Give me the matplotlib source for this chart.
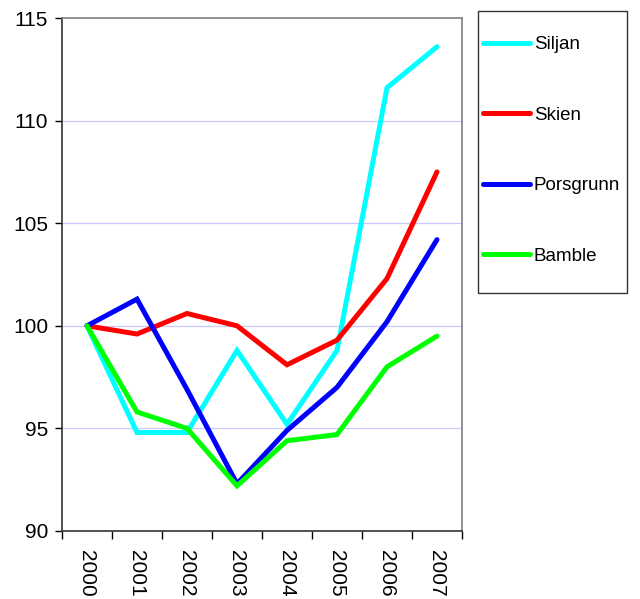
import numpy as np
import matplotlib.pyplot as plt
from matplotlib.patches import Rectangle

plt.rcParams['font.family'] = ['Liberation Sans', 'DejaVu Sans']

years = ['2000', '2001', '2002', '2003', '2004', '2005', '2006', '2007']
siljan = [100.0, 94.8, 94.8, 98.8, 95.2, 98.8, 111.6, 113.6]
skien = [100.0, 99.6, 100.6, 100.0, 98.1, 99.3, 102.3, 107.5]
porsgrunn = [100.0, 101.3, 96.9, 92.3, 94.9, 97.0, 100.2, 104.2]
bamble = [100.0, 95.8, 95.0, 92.2, 94.4, 94.7, 98.0, 99.5]

series = [('Siljan', siljan, '#00FFFF'),
          ('Skien', skien, '#FF0000'),
          ('Porsgrunn', porsgrunn, '#0000FF'),
          ('Bamble', bamble, '#00FF00')]

fig = plt.figure(figsize=(6.4, 5.99), dpi=100)
ax = fig.add_axes([62 / 640, 68 / 599, 400 / 640, 513 / 599])

x = np.arange(len(years))
for name, vals, col in series:
    ax.plot(x, vals, color=col, linewidth=3.6, label=name,
            solid_capstyle='round', solid_joinstyle='miter')

ax.set_xlim(-0.5, len(years) - 0.5)
ax.set_ylim(90, 115)
ax.set_yticks([90, 95, 100, 105, 110, 115])
for v in [95, 100, 105, 110]:
    ax.axhline(v, color='#C8C8FF', linewidth=0.9, zorder=0)

ax.set_xticks(x)
ax.set_xticklabels(years, rotation=270, fontsize=15, va='top', ha='center')
ax.set_xticks(np.arange(-0.5, len(years)), minor=True)
ax.tick_params(axis='x', which='major', length=0, pad=14)
ax.tick_params(axis='x', which='minor', length=6, width=1, direction='out')
ax.tick_params(axis='y', labelsize=15, length=5, width=1, direction='out', pad=5)

ax.spines['left'].set_color('#333333')
ax.spines['bottom'].set_color('#333333')
ax.spines['top'].set_color('#808080')
ax.spines['right'].set_color('#808080')
for s in ax.spines.values():
    s.set_linewidth(1.2)

# legend box drawn separately, entries placed inside it
fig.patches.append(Rectangle((478 / 640, 1 - 293 / 599), 149 / 640, 282 / 599,
                             transform=fig.transFigure, fill=False,
                             edgecolor='#333333', linewidth=1.0))
fig.legend(loc='upper left', bbox_to_anchor=(483 / 640, 1 - 36 / 599),
           fontsize=13.5, frameon=False, borderpad=0, labelspacing=2.85,
           handlelength=2.5, handletextpad=0.2, borderaxespad=0)

fig.savefig('out.png', dpi=100)
